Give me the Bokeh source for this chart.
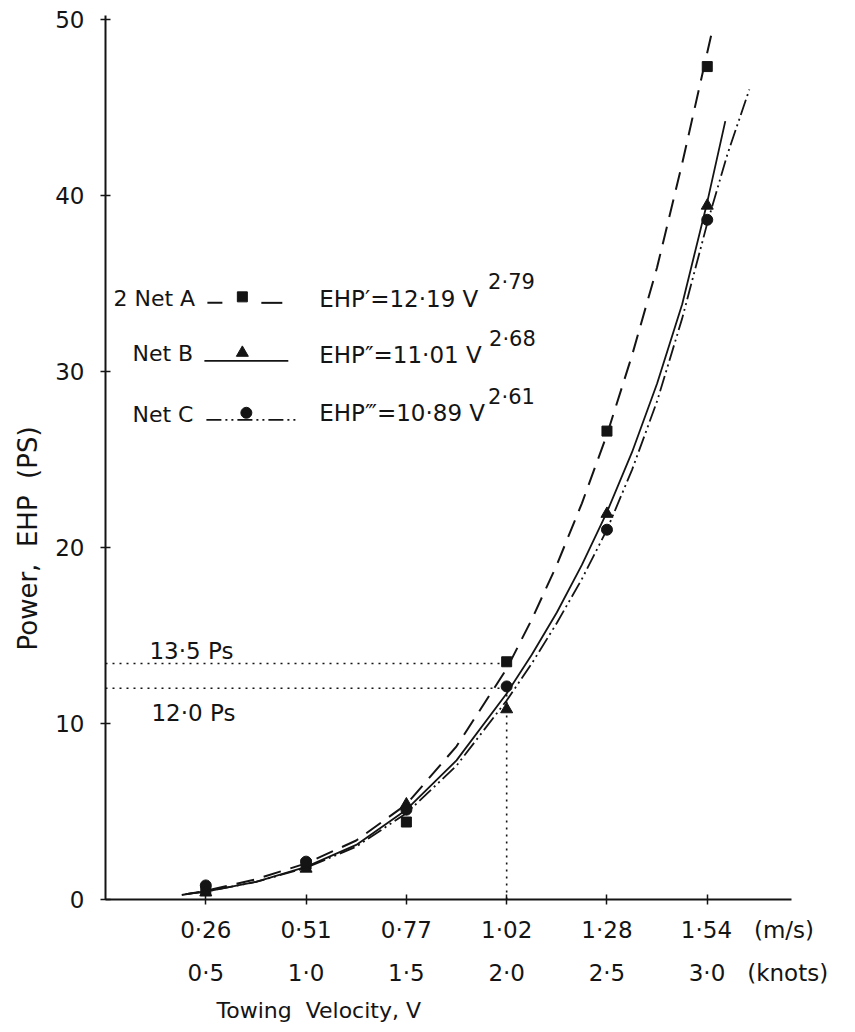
import math
from bokeh.plotting import figure
from bokeh.models import Range1d, LinearAxis, FixedTicker, Label, Title
from bokeh.embed import file_html
from bokeh.resources import INLINE

# ---------------- data ----------------
knots = [0.5, 1.0, 1.5, 2.0, 2.5, 3.0]
ms_labels = ["0·26", "0·51", "0·77", "1·02", "1·28", "1·54"]
knot_labels = ["0·5", "1·0", "1·5", "2·0", "2·5", "3·0"]
ms_unit = "(m/s)"
knot_unit = "(knots)"
y_ticks = [0, 10, 20, 30, 40, 50]

net_a_pts = [0.5, 2.0, 4.4, 13.5, 26.6, 47.3]
net_b_pts = [0.4, 1.75, 5.4, 10.8, 21.9, 39.4]
net_c_pts = [0.8, 2.15, 5.1, 12.1, 21.0, 38.6]

curve_a_x = [0.38, 0.5, 0.75, 1.0, 1.25, 1.5, 1.75, 2.0, 2.125, 2.25, 2.375, 2.5,
             2.625, 2.75, 2.875, 3.0, 3.02]
curve_a_y = [0.25, 0.5, 1.15, 2.05, 3.35, 5.4, 8.7, 13.1, 15.9, 19.0, 22.5, 26.4,
             30.9, 35.9, 41.8, 48.1, 49.1]
curve_b_x = [0.4, 0.5, 0.75, 1.0, 1.25, 1.5, 1.75, 2.0, 2.125, 2.25, 2.375, 2.5,
             2.625, 2.75, 2.875, 3.0, 3.09]
curve_b_y = [0.3, 0.45, 1.0, 1.85, 3.1, 5.1, 7.9, 11.7, 13.9, 16.3, 19.0, 22.0,
             25.4, 29.3, 33.8, 39.6, 44.2]
curve_c_x = [0.4, 0.5, 0.75, 1.0, 1.25, 1.5, 1.75, 2.0, 2.125, 2.25, 2.375, 2.5,
             2.625, 2.75, 2.875, 3.0, 3.1, 3.21]
curve_c_y = [0.3, 0.45, 1.0, 1.8, 3.0, 4.9, 7.6, 11.3, 13.4, 15.7, 18.2, 21.0,
             24.4, 28.3, 33.0, 38.4, 42.3, 46.0]

ref_x = 2.0
ref_levels = [13.4, 12.0]
ref_labels = ["13·5 Ps", "12·0 Ps"]

eq_names = ["2 Net A", "Net B", "Net C"]
eq_texts = ["EHP\u2032=12·19 V", "EHP\u2033=11·01 V", "EHP\u2034=10·89 V"]
eq_exps = ["2·79", "2·68", "2·61"]

# ---------------- figure ----------------
INK = "#141414"
FONT = "DejaVu Sans"
NB = "\u00a0"

p = figure(width=855, height=1032, x_range=Range1d(0, 3.42), y_range=Range1d(0, 50.2),
           output_backend="svg", toolbar_location=None, x_axis_location=None,
           y_axis_location=None,
           min_border_left=104, min_border_right=64, min_border_top=15, min_border_bottom=133)
p.outline_line_color = None
p.grid.visible = False
p.background_fill_color = "white"
p.border_fill_color = "white"

yax = LinearAxis(ticker=FixedTicker(ticks=y_ticks))
yax.axis_line_color = INK
yax.axis_line_width = 2
yax.major_tick_line_color = INK
yax.major_tick_line_width = 1.5
yax.major_tick_in = 5
yax.major_tick_out = 5
yax.minor_tick_line_color = None
yax.major_label_standoff = 16
yax.major_label_text_font = FONT
yax.major_label_text_font_size = "23px"
yax.major_label_text_color = INK
p.add_layout(yax, "left")

# last tick label carries the unit; padded on the left so the number stays centred
ms_over = {k: s for k, s in zip(knots, ms_labels)}
ms_over[knots[-1]] = NB * 11 + ms_labels[-1] + NB * 3 + ms_unit
kn_over = {k: s for k, s in zip(knots, knot_labels)}
kn_over[knots[-1]] = NB * 14 + knot_labels[-1] + NB * 3 + knot_unit

xax = LinearAxis(ticker=FixedTicker(ticks=knots))
xax.major_label_overrides = ms_over
xax.axis_line_color = INK
xax.axis_line_width = 2
xax.major_tick_line_color = INK
xax.major_tick_line_width = 1.5
xax.major_tick_in = 5
xax.major_tick_out = 5
xax.minor_tick_line_color = None
xax.major_label_standoff = 12
xax.major_label_text_font = FONT
xax.major_label_text_font_size = "23px"
xax.major_label_text_color = INK
p.add_layout(xax, "below")

xax2 = LinearAxis(ticker=FixedTicker(ticks=knots))
xax2.major_label_overrides = kn_over
xax2.axis_line_color = None
xax2.major_tick_line_color = None
xax2.major_tick_in = 0
xax2.major_tick_out = 0
xax2.minor_tick_line_color = None
xax2.major_label_standoff = 14
xax2.major_label_text_font = FONT
xax2.major_label_text_font_size = "23px"
xax2.major_label_text_color = INK
p.add_layout(xax2, "below")

# axis titles as offset titles
p.add_layout(Title(text="Towing" + NB + " Velocity, V", align="left", offset=111,
                   text_font=FONT, text_font_size="22px", text_font_style="normal",
                   text_color=INK, standoff=14), "below")
p.add_layout(Title(text="Power," + NB + " EHP" + NB + " (PS)", align="left", offset=249,
                   text_font=FONT, text_font_size="26px", text_font_style="normal",
                   text_color=INK, standoff=20), "left")

# ---- helper for pixel-ish placement in data units ----
def dx(px):
    return (px - 104) / 200.8

def dy(py):
    return (899 - py) / 17.62

def lab(text, px, py, size="24px", align="left", font=FONT):
    p.add_layout(Label(x=dx(px), y=dy(py), text=text, text_font=font,
                       text_font_size=size, text_align=align, text_baseline="middle",
                       text_color=INK))

# ---- curves ----
p.line(curve_a_x, curve_a_y, line_color=INK, line_width=2, line_dash="18 10")
p.line(curve_b_x, curve_b_y, line_color=INK, line_width=1.8)
p.line(curve_c_x, curve_c_y, line_color=INK, line_width=1.8, line_dash="16 4 2 4 2 4")

# ---- points ----
p.scatter(knots, net_a_pts, marker="square", size=10, color=INK)
p.scatter(knots, net_b_pts, marker="triangle", size=12, color=INK)
p.scatter(knots, net_c_pts, marker="circle", size=11, color=INK)

# ---- reference dotted lines ----
p.segment(x0=[0, 0], y0=ref_levels, x1=[ref_x - 0.02, ref_x], y1=ref_levels,
          line_color=INK, line_width=1.6, line_dash="2 5")
p.segment(x0=[ref_x], y0=[0], x1=[ref_x], y1=[ref_levels[1]],
          line_color=INK, line_width=1.6, line_dash="2 5")
lab(ref_labels[0], 148, 650, size="23px")
lab(ref_labels[1], 150, 712, size="23px")

# ---- legend (manual) ----
lab(eq_names[0], 112, 298, size="22px")
p.segment(x0=[dx(206), dx(260)], y0=[dy(302)] * 2, x1=[dx(221), dx(281)], y1=[dy(302)] * 2,
          line_color=INK, line_width=2)
p.scatter([dx(241)], [dy(296)], marker="square", size=10, color=INK)
lab(eq_names[1], 131, 353, size="22px")
p.segment(x0=[dx(203)], y0=[dy(360)], x1=[dx(287)], y1=[dy(360)], line_color=INK, line_width=1.8)
p.scatter([dx(241)], [dy(352)], marker="triangle", size=12, color=INK)
lab(eq_names[2], 131, 414, size="22px")
p.line([dx(205), dx(295)], [dy(419)] * 2, line_color=INK, line_width=1.8,
       line_dash="15 4 2 4 2 4")
p.scatter([dx(245)], [dy(412)], marker="circle", size=11, color=INK)

eq_rows = [298, 354, 412]
exp_rows = [281, 338, 396]
exp_left = [487, 488, 487]
for t, e, ry, ey, ex in zip(eq_texts, eq_exps, eq_rows, exp_rows, exp_left):
    lab(t, 318, ry, size="23px")
    lab(e, ex, ey, size="21px")

open("out.html", "w").write(file_html(p, INLINE))
